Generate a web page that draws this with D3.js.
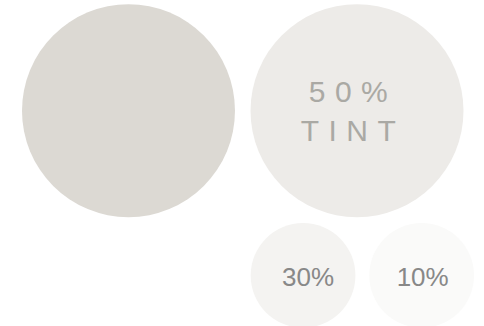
<!DOCTYPE html>
<html>
<head>
<script src="https://cdn.jsdelivr.net/npm/d3@7/dist/d3.min.js"></script>
<style>
html, body { margin: 0; padding: 0; background: #fff; }
#chart { width: 484px; height: 326px; }
</style>
</head>
<body>
<div id="chart"></div>
<script>
// swatches: base colour and its tints
var names = ["base", "50", "30", "10"];
var tints = [100, 50, 30, 10];
var labels = [[], ["50%", "TINT"], ["30%"], ["10%"]];
var fills = ["#dcd9d3", "#edebe8", "#f4f3f1", "#fafaf9"];

var width = 484, height = 326;

var svg = d3.select("#chart").append("svg")
    .attr("width", width)
    .attr("height", height);

// big swatches on top row, small ones below
var isBig = function(d){ return d.tint >= 50; };

var data = names.map(function(n, i){
    return { name: n, tint: tints[i], label: labels[i], fill: fills[i] };
});

var big = data.filter(isBig), small = data.filter(function(d){ return !isBig(d); });

var xBig = d3.scaleBand().domain(big.map(function(d){ return d.name; }))
    .range([22, 463.5]).paddingInner(0.068);
var xSmall = d3.scaleBand().domain(small.map(function(d){ return d.name; }))
    .range([250.7, 474]).paddingInner(0.117);

big.forEach(function(d){
    d.r = xBig.bandwidth() / 2;
    d.cx = xBig(d.name) + d.r;
    d.cy = 110.7;
});
small.forEach(function(d){
    d.r = xSmall.bandwidth() / 2;
    d.cx = xSmall(d.name) + d.r;
    d.cy = 275.4;
});

var g = svg.selectAll("g.swatch")
    .data(data)
    .enter().append("g")
    .classed("swatch", true)
    .attr("transform", function(d){ return "translate(" + [d.cx, d.cy] + ")"; });

g.append("circle")
    .attr("r", function(d){ return d.r; })
    .attr("fill", function(d){ return d.fill; });

// big label: spaced caps
g.filter(isBig).selectAll("text")
    .data(function(d){ return d.label; })
    .enter().append("text")
    .attr("text-anchor", "middle")
    .attr("x", -4)
    .attr("y", function(d, i){ return i === 0 ? -8.5 : 30.5; })
    .attr("font-family", "Liberation Sans, Arial, sans-serif")
    .attr("font-size", 30)
    .attr("letter-spacing", 9.5)
    .attr("fill", "#aaa9a4")
    .text(function(d){ return d; });

g.filter(function(d){ return !isBig(d); }).selectAll("text")
    .data(function(d){ return d.label; })
    .enter().append("text")
    .attr("text-anchor", "middle")
    .attr("x", function(){ return this.parentNode.__data__.name === "30" ? 5 : 1; })
    .attr("y", 10.5)
    .attr("font-family", "Liberation Sans, Arial, sans-serif")
    .attr("font-size", 26)
    .attr("fill", "#888888")
    .text(function(d){ return d; });
</script>
</body>
</html>
